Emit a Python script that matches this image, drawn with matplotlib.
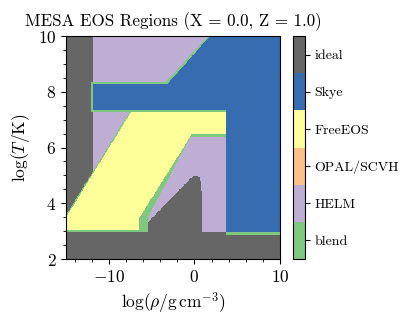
import numpy as np
import matplotlib
matplotlib.use('Agg')
import matplotlib.pyplot as plt
from matplotlib.colors import ListedColormap, BoundaryNorm
from matplotlib.path import Path
from matplotlib.ticker import MultipleLocator

plt.rcParams['font.family'] = 'serif'
plt.rcParams['font.serif'] = ['cmr10']
plt.rcParams['mathtext.fontset'] = 'cm'
plt.rcParams['axes.formatter.use_mathtext'] = True
plt.rcParams['axes.unicode_minus'] = True

# EOS components (colorbar order, bottom -> top)
eos_names = ['blend', 'HELM', 'OPAL/SCVH', 'FreeEOS', 'Skye', 'ideal']
eos_colors = ['#7fc97f', '#beaed4', '#fdc086', '#ffff99', '#386cb0', '#666666']

# region boundaries, (logRho, logT)
ideal_strip_rho = -11.8
ideal_floor_T = 2.97
ideal_bump_rho = [-8.0, -0.5, -0.1, 0.3, 0.6, 0.78, 0.85, 0.85]
ideal_bump_T = [2.5, 4.87, 4.97, 5.0, 4.93, 4.75, 4.4, 2.5]

freeeos_blend_rho = [-15.0, -5.46, -5.46, -0.47, 3.7, 3.7, -7.46, -15.0]
freeeos_blend_T = [2.97, 2.97, 3.47, 6.37, 6.37, 7.35, 7.35, 3.58]
freeeos_rho = [-15.0, -6.5, -6.5, -0.3, 3.7, 3.7, -7.45, -15.0]
freeeos_T = [3.05, 3.05, 3.45, 6.47, 6.47, 7.27, 7.27, 3.5]

skye_blend_rho = [-12.1, 3.7, 3.7, 10.0, 10.0, 1.6, -3.4, -12.1]
skye_blend_T = [7.27, 7.27, 2.87, 2.87, 10.0, 10.0, 8.34, 8.34]
skye_rho = [-11.85, 3.7, 3.7, 10.0, 10.0, 1.8, -3.2, -11.85]
skye_T = [7.35, 7.35, 2.95, 2.95, 10.0, 10.0, 8.27, 8.27]

# build the region map on a (logRho, logT) grid
log_rho = np.linspace(-15, 10, 626)
log_T = np.linspace(2, 10, 401)
R, T = np.meshgrid(log_rho, log_T)
pts = np.column_stack([R.ravel(), T.ravel()])

def inside(xs, ys):
    return Path(np.column_stack([xs, ys])).contains_points(pts).reshape(R.shape)

region = np.full(R.shape, eos_names.index('HELM'))
region[(R < ideal_strip_rho) | (T < ideal_floor_T)] = eos_names.index('ideal')
region[inside(ideal_bump_rho, ideal_bump_T)] = eos_names.index('ideal')
region[inside(freeeos_blend_rho, freeeos_blend_T)] = eos_names.index('blend')
region[inside(freeeos_rho, freeeos_T)] = eos_names.index('FreeEOS')
region[inside(skye_blend_rho, skye_blend_T)] = eos_names.index('blend')
region[inside(skye_rho, skye_T)] = eos_names.index('Skye')

cmap = ListedColormap(eos_colors)
norm = BoundaryNorm(np.arange(-0.5, len(eos_names)), cmap.N)

fig = plt.figure(figsize=(4.16, 3.25), dpi=100)
ax = fig.add_axes([0.159, 0.203, 0.514, 0.686])
cax = fig.add_axes([0.704, 0.203, 0.029, 0.686])

im = ax.imshow(region, origin='lower', extent=[-15, 10, 2, 10], aspect='auto',
               cmap=cmap, norm=norm, interpolation='nearest')
ax.set_xlim(-15, 10)
ax.set_ylim(2, 10)
ax.xaxis.set_major_locator(MultipleLocator(10))
ax.xaxis.set_minor_locator(MultipleLocator(2))
ax.yaxis.set_major_locator(MultipleLocator(2))
ax.yaxis.set_minor_locator(MultipleLocator(0.5))
ax.tick_params(labelsize=12.5)
ax.set_xlabel(r'$\log(\rho/\mathrm{g\,cm^{-3}})$', fontsize=12.5)
ax.set_ylabel(r'$\log(T/\mathrm{K})$', fontsize=12.5)
ax.set_title('MESA EOS Regions (X = 0.0, Z = 1.0)', fontsize=12.2, pad=7)

cb = fig.colorbar(im, cax=cax, ticks=np.arange(len(eos_names)))
cb.set_ticklabels(eos_names)
cb.ax.tick_params(labelsize=10)
cb.ax.minorticks_off()

fig.savefig('out.png', dpi=100)
